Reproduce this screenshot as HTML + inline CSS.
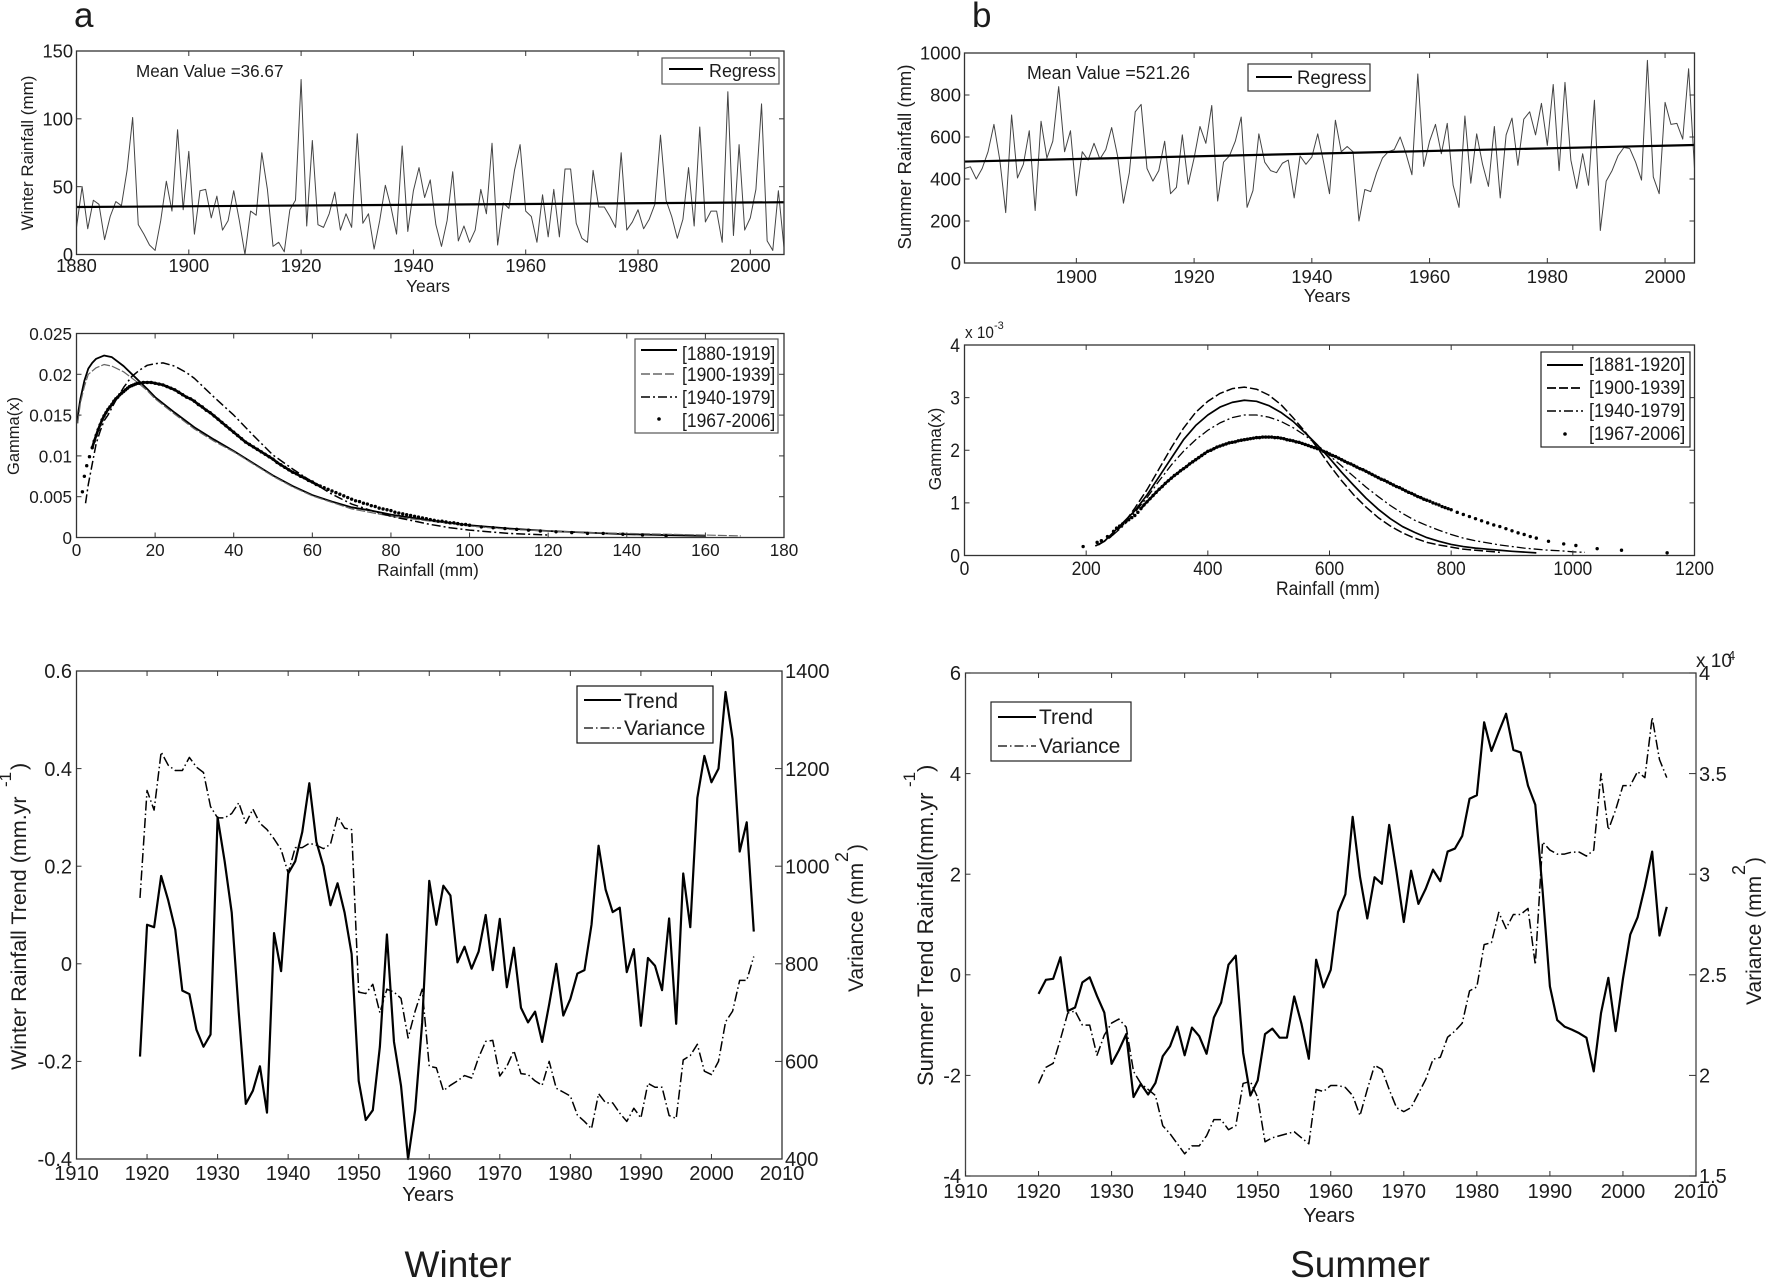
<!DOCTYPE html>
<html lang="en">
<head>
<meta charset="utf-8">
<title>Winter and summer rainfall analysis</title>
<style>
html,body{margin:0;padding:0;background:#fff;}
svg{display:block;}
text{font-family:"Liberation Sans",Arial,sans-serif;fill:#1c1c1c;}
</style>
</head>
<body>
<svg id="chart" xmlns="http://www.w3.org/2000/svg" width="1766" height="1279" viewBox="0 0 1766 1279">
<rect x="0" y="0" width="1766" height="1279" fill="#fff"/>
<g id="plots"></g>

<text x="74" y="27" font-size="35">a</text>
<text x="972" y="27" font-size="35">b</text>
<text x="458" y="1277" font-size="37" text-anchor="middle">Winter</text>
<text x="1360" y="1277" font-size="37" text-anchor="middle">Summer</text>

<text transform="translate(136 77) scale(.95 1)" font-size="18">Mean Value =36.67</text>
<text transform="translate(1027 79) scale(.96 1)" font-size="18.5">Mean Value =521.26</text>

<text transform="translate(428 292)" font-size="17.5" text-anchor="middle">Years</text>
<text transform="translate(1327 302)" font-size="18.5" text-anchor="middle">Years</text>
<text transform="translate(33 153) rotate(-90)" font-size="17" text-anchor="middle">Winter Rainfall (mm)</text>
<text transform="translate(911 157) rotate(-90)" font-size="18.5" text-anchor="middle">Summer Rainfall (mm)</text>

<text transform="translate(428 576) scale(.95 1)" font-size="18" text-anchor="middle">Rainfall (mm)</text>
<text transform="translate(1328 595) scale(.92 1)" font-size="19" text-anchor="middle">Rainfall (mm)</text>
<text transform="translate(19 436) rotate(-90)" font-size="16.5" text-anchor="middle">Gamma(x)</text>
<text transform="translate(941 449) rotate(-90)" font-size="17.5" text-anchor="middle">Gamma(x)</text>
<text transform="translate(965 338) scale(.9 1)" font-size="17">x 10</text>
<text x="994" y="329" font-size="11">-3</text>

<text x="428" y="1201" font-size="20.5" text-anchor="middle">Years</text>
<text x="1329" y="1222" font-size="20.5" text-anchor="middle">Years</text>
<text transform="translate(26 1070) rotate(-90)" font-size="21.5">Winter Rainfall Trend (mm.yr</text>
<text transform="translate(11 787) rotate(-90)" font-size="17">-1</text>
<text transform="translate(26 770) rotate(-90)" font-size="21.5">)</text>
<text transform="translate(933 1086) rotate(-90)" font-size="22">Summer Trend Rainfall(mm.yr</text>
<text transform="translate(915 787) rotate(-90)" font-size="17">-1</text>
<text transform="translate(933 772) rotate(-90)" font-size="22">)</text>
<text transform="translate(863 992) rotate(-90)" font-size="21">Variance (mm</text>
<text transform="translate(848 862) rotate(-90)" font-size="18">2</text>
<text transform="translate(863 851) rotate(-90)" font-size="21">)</text>
<text transform="translate(1761 1005) rotate(-90)" font-size="21">Variance (mm</text>
<text transform="translate(1745 875) rotate(-90)" font-size="18">2</text>
<text transform="translate(1761 864) rotate(-90)" font-size="21">)</text>
<text x="1696" y="667" font-size="19">x 10</text>
<text x="1728" y="660" font-size="13">4</text>

<g>
  <rect x="662" y="58" width="117" height="26" fill="#fff" stroke="#555" stroke-width="1.2"/>
  <line x1="669" y1="69" x2="703" y2="69" stroke="#000" stroke-width="2"/>
  <text transform="translate(709 77) scale(.97 1)" font-size="18.5">Regress</text>
</g>
<g>
  <rect x="1248" y="64" width="122" height="27" fill="#fff" stroke="#333" stroke-width="1.2"/>
  <line x1="1256" y1="77" x2="1292" y2="77" stroke="#000" stroke-width="2"/>
  <text transform="translate(1297 84) scale(.98 1)" font-size="19">Regress</text>
</g>

<g>
  <rect x="635" y="339" width="143" height="94" fill="#fff" stroke="#555" stroke-width="1.2"/>
  <line x1="641" y1="350" x2="677" y2="350" stroke="#000" stroke-width="2"/>
  <text transform="translate(682 360) scale(.92 1)" font-size="19">[1880-1919]</text>
  <line x1="641" y1="374" x2="677" y2="374" stroke="#666" stroke-width="1.5" stroke-dasharray="9 3"/>
  <text transform="translate(682 381) scale(.92 1)" font-size="19">[1900-1939]</text>
  <line x1="641" y1="397" x2="677" y2="397" stroke="#000" stroke-width="1.6" stroke-dasharray="9 3 2 3"/>
  <text transform="translate(682 404) scale(.92 1)" font-size="19">[1940-1979]</text>
  <circle cx="659" cy="419" r="1.8" fill="#000"/>
  <text transform="translate(682 427) scale(.92 1)" font-size="19">[1967-2006]</text>
</g>
<g>
  <rect x="1541" y="352" width="149" height="95" fill="#fff" stroke="#222" stroke-width="1.2"/>
  <line x1="1547" y1="365" x2="1583" y2="365" stroke="#000" stroke-width="2"/>
  <text transform="translate(1589 371) scale(.95 1)" font-size="19">[1881-1920]</text>
  <line x1="1547" y1="388" x2="1583" y2="388" stroke="#000" stroke-width="1.8" stroke-dasharray="9 3"/>
  <text transform="translate(1589 394) scale(.95 1)" font-size="19">[1900-1939]</text>
  <line x1="1547" y1="411" x2="1583" y2="411" stroke="#000" stroke-width="1.5" stroke-dasharray="9 3 2 3"/>
  <text transform="translate(1589 417) scale(.95 1)" font-size="19">[1940-1979]</text>
  <circle cx="1565" cy="434" r="1.8" fill="#000"/>
  <text transform="translate(1589 440) scale(.95 1)" font-size="19">[1967-2006]</text>
</g>

<g>
  <rect x="577" y="686" width="136" height="57" fill="#fff" stroke="#111" stroke-width="1.2"/>
  <line x1="584" y1="700" x2="621" y2="700" stroke="#000" stroke-width="2"/>
  <text x="624" y="708" font-size="21">Trend</text>
  <line x1="584" y1="728" x2="621" y2="728" stroke="#000" stroke-width="1.3" stroke-dasharray="9 3 1.5 3"/>
  <text x="624" y="735" font-size="21">Variance</text>
</g>
<g>
  <rect x="991" y="702" width="140" height="59" fill="#fff" stroke="#222" stroke-width="1.2"/>
  <line x1="998" y1="717" x2="1036" y2="717" stroke="#000" stroke-width="2"/>
  <text x="1039" y="724" font-size="21">Trend</text>
  <line x1="998" y1="746" x2="1036" y2="746" stroke="#000" stroke-width="1.3" stroke-dasharray="9 3 1.5 3"/>
  <text x="1039" y="753" font-size="21">Variance</text>
</g>
</svg>
<script>
const winterYearStart = 1880;
const winterRainfall = [20,50,19,40,37,11,28,39,36,62,101,22,15,7,3,25,54,32,92,33,76,15,47,48,27,43,18,25,47,25,0,32,29,75,48,6,9,2,33,40,129,21,84,22,20,30,46,18,30,20,89,23,30,4,25,51,35,15,80,17,47,64,42,55,22,6,25,61,10,21,9,18,48,30,82,7,38,34,62,81,32,28,9,44,13,48,13,63,63,23,12,9,62,35,35,28,20,75,18,24,33,19,26,37,88,40,28,12,26,64,21,94,24,32,32,9,120,14,81,18,27,48,111,10,3,47,5];
const winterRegressYears = [1880,2006];
const winterRegressValues = [35,38.5];
const winterSeriesXTicks = [1880,1900,1920,1940,1960,1980,2000];
const winterSeriesYTicks = [0,50,100,150];

const summerYearStart = 1881;
const summerRainfall = [450,458,400,450,530,660,490,240,705,405,470,630,250,675,500,580,840,530,630,320,530,490,570,495,540,645,510,285,430,720,755,450,390,440,580,330,360,610,375,500,650,570,750,295,480,510,580,695,265,345,615,480,440,430,475,490,310,510,470,505,615,480,330,680,530,555,530,200,350,340,430,500,530,540,600,520,420,900,460,580,660,520,665,370,265,700,380,615,470,365,650,310,610,690,465,685,720,610,760,560,850,440,860,490,355,520,370,775,155,390,440,510,550,545,480,395,965,410,330,765,660,665,590,925,450];
const summerRegressYears = [1881,2005];
const summerRegressValues = [483,562];
const summerSeriesXTicks = [1900,1920,1940,1960,1980,2000];
const summerSeriesYTicks = [0,200,400,600,800,1000];

const winterGammaXTicks = [0,20,40,60,80,100,120,140,160,180];
const winterGammaYTicks = [0,0.005,0.01,0.015,0.02,0.025];
const winterGamma1880 = [[0.2,.014],[0.5,.0155],[1,.017],[2,.0192],[3,.0207],[4,.0214],[5,.0219],[7,.0223],[9,.0221],[12,.021],[15,.0196],[18,.0182],[20,.0172],[25,.0153],[30,.0135],[35,.012],[40,.0106],[45,.0091],[50,.0076],[55,.0063],[60,.0052],[65,.0044],[70,.0037],[75,.0033],[80,.0028],[90,.0021],[100,.0015],[110,.0011],[120,.0008],[130,.0006],[140,.0004],[150,.0003],[160,.0002]];
const winterGamma1900 = [[0.3,.014],[1,.0165],[2,.0185],[3,.02],[5,.0208],[7,.0212],[9,.021],[12,.0203],[15,.0192],[18,.018],[20,.017],[25,.0151],[30,.0133],[35,.0118],[40,.0105],[45,.009],[50,.0075],[55,.0062],[60,.0051],[65,.0043],[70,.0035],[80,.0026],[90,.002],[100,.0014],[110,.001],[120,.0008],[130,.0006],[140,.0005],[150,.0004],[160,.0003],[169,.0002]];
const winterGamma1940 = [[2.3,.0042],[3,.0065],[4,.009],[5,.0115],[6,.013],[7,.0143],[8,.015],[10,.0168],[12,.0184],[14,.0197],[16,.0205],[18,.0211],[20,.0213],[22,.0214],[25,.021],[28,.0202],[30,.0195],[35,.0172],[40,.015],[45,.0125],[50,.0101],[55,.0084],[60,.0068],[65,.0053],[70,.0041],[75,.0033],[80,.0026],[85,.0021],[90,.0016],[95,.0012],[100,.0009],[110,.0005],[120,.0003]];
const winterGamma1967 = [[1.5,.0056],[2,.0075],[2.6,.0088],[3.3,.0099],[4,.011],[4.5,.0118],[5,.0125],[5.5,.0132],[6,.0138],[6.5,.0144],[7,.0149],[7.5,.0153],[8,.0157],[8.5,.016],[9,.0163],[9.5,.0167],[10,.017],[10.5,.0172],[11,.0175],[11.5,.0177],[12,.0179],[12.5,.0181],[13,.0183],[13.5,.0185],[14,.0186],[14.5,.0187],[15,.0188],[15.5,.0189],[16,.0189],[17,.019],[18,.019],[19,.019],[20,.0189],[21,.0188],[22,.0187],[23,.0185],[24,.0183],[25,.0181],[26,.0178],[27,.0175],[28,.0172],[29,.017],[30,.0167],[31,.0163],[32,.016],[33,.0156],[34,.0153],[35,.0149],[36,.0145],[37,.0141],[38,.0137],[39,.0133],[40,.0129],[41,.0125],[42,.0121],[43,.0117],[44,.0114],[45,.0111],[46,.0108],[47,.0105],[48,.0102],[49,.0099],[50,.0096],[51,.0092],[52,.0089],[53,.0086],[54,.0083],[55,.008],[56,.0078],[57,.0075],[58,.0073],[59,.007],[60,.0068],[61,.0065],[62,.0063],[63,.0061],[64,.0059],[65,.0057],[66,.0055],[67,.0053],[68,.0051],[69,.0049],[70,.0047],[71,.0045],[72,.0044],[73,.0042],[74,.0041],[75,.0039],[76,.0038],[77,.0036],[78,.0035],[79,.0034],[80,.0033],[81,.0031],[82,.003],[83,.0029],[84,.0028],[85,.0027],[86,.0026],[87,.0025],[88,.0024],[89,.0023],[90,.0022],[91,.0021],[92,.002],[93,.002],[94,.0019],[95,.0018],[96,.0018],[97,.0017],[98,.0016],[99,.0016],[100,.0015],[103,.0013],[106,.0012],[109,.0011],[112,.001],[115,.0009],[118,.0008],[122,.0007],[126,.0006],[130,.0005],[134,.0005],[139,.0004],[144,.0003],[150,.0002]];

const summerGammaXTicks = [0,200,400,600,800,1000,1200];
const summerGammaYTicks = [0,1,2,3,4];
const summerGamma1881 = [[215,.18],[230,.27],[250,.5],[280,.85],[300,1.15],[320,1.5],[340,1.85],[360,2.2],[380,2.47],[400,2.67],[420,2.82],[440,2.91],[460,2.95],[480,2.93],[500,2.85],[520,2.72],[540,2.55],[560,2.33],[580,2.1],[600,1.85],[620,1.58],[640,1.33],[660,1.09],[680,.88],[700,.7],[720,.55],[740,.44],[760,.34],[780,.27],[800,.21],[820,.17],[840,.14],[860,.12],[880,.1],[900,.08],[940,.05]];
const summerGamma1900 = [[220,.2],[240,.35],[260,.58],[280,.9],[300,1.25],[320,1.65],[340,2.05],[360,2.42],[380,2.72],[400,2.93],[420,3.08],[440,3.17],[460,3.2],[480,3.16],[500,3.05],[520,2.87],[540,2.62],[560,2.35],[580,2.05],[600,1.72],[620,1.42],[640,1.15],[660,.92],[680,.72],[700,.56],[720,.43],[740,.33],[760,.25],[780,.2],[800,.16],[820,.12],[840,.1],[860,.08],[880,.06]];
const summerGamma1940 = [[220,.2],[240,.35],[260,.55],[280,.82],[300,1.1],[320,1.42],[340,1.72],[360,1.98],[380,2.2],[400,2.38],[420,2.52],[440,2.62],[460,2.67],[480,2.67],[500,2.63],[520,2.55],[540,2.43],[560,2.28],[580,2.1],[600,1.9],[620,1.7],[640,1.5],[660,1.3],[680,1.12],[700,.95],[720,.8],[740,.67],[760,.57],[780,.48],[800,.4],[820,.33],[840,.28],[860,.24],[880,.2],[900,.17],[920,.14],[940,.12],[960,.1],[980,.09],[1000,.07],[1020,.06]];
const summerGamma1967 = [[195,.17],[218,.25],[225,.28],[235,.36],[245,.46],[250,.52],[255,.56],[260,.6],[265,.64],[270,.68],[275,.72],[280,.76],[285,.82],[290,.89],[295,.96],[300,1.02],[305,1.08],[310,1.14],[315,1.2],[320,1.26],[325,1.31],[330,1.37],[335,1.42],[340,1.47],[345,1.52],[350,1.56],[355,1.61],[360,1.65],[365,1.69],[370,1.74],[375,1.78],[380,1.82],[385,1.86],[390,1.9],[395,1.94],[400,1.98],[405,2],[410,2.03],[415,2.06],[420,2.08],[425,2.1],[430,2.12],[435,2.14],[440,2.15],[445,2.16],[450,2.18],[455,2.19],[460,2.2],[465,2.21],[470,2.22],[475,2.23],[480,2.24],[485,2.24],[490,2.25],[495,2.25],[500,2.25],[505,2.25],[510,2.24],[515,2.24],[520,2.23],[525,2.22],[530,2.2],[535,2.19],[540,2.18],[545,2.16],[550,2.15],[555,2.13],[560,2.11],[565,2.09],[570,2.07],[575,2.05],[580,2.03],[585,2.01],[590,1.98],[595,1.96],[600,1.93],[605,1.9],[610,1.88],[615,1.85],[620,1.82],[625,1.79],[630,1.76],[635,1.74],[640,1.71],[645,1.68],[650,1.65],[655,1.63],[660,1.6],[665,1.57],[670,1.54],[675,1.51],[680,1.48],[685,1.45],[690,1.43],[695,1.4],[700,1.37],[705,1.34],[710,1.31],[715,1.29],[720,1.26],[725,1.23],[730,1.2],[735,1.18],[740,1.15],[745,1.12],[750,1.1],[755,1.07],[760,1.05],[765,1.03],[770,1],[775,.98],[780,.96],[785,.93],[790,.91],[795,.89],[800,.87],[810,.82],[820,.78],[830,.74],[840,.7],[850,.66],[860,.62],[870,.58],[880,.55],[890,.51],[900,.47],[910,.43],[920,.4],[930,.36],[940,.33],[960,.27],[985,.22],[1005,.19],[1040,.13],[1080,.1],[1155,.05]];

const trendXTicks = [1910,1920,1930,1940,1950,1960,1970,1980,1990,2000,2010];
const winterTrendStart = 1919;
const winterTrend = [-.19,.08,.075,.18,.13,.07,-.055,-.062,-.135,-.17,-.145,.30,.21,.105,-.10,-.287,-.26,-.21,-.305,.063,-.015,.185,.21,.27,.37,.25,.20,.12,.165,.105,.02,-.24,-.32,-.30,-.17,.06,-.16,-.25,-.40,-.30,-.12,.17,.08,.16,.14,.003,.035,-.01,.025,.10,-.013,.092,-.048,.033,-.09,-.12,-.098,-.16,-.083,0,-.106,-.072,-.02,-.013,.08,.242,.152,.106,.115,-.017,.03,-.127,.012,-.004,-.054,.093,-.123,.185,.075,.34,.426,.372,.40,.557,.46,.23,.29,.066];
const winterVariance = [935,1155,1115,1234,1207,1196,1196,1223,1203,1192,1122,1099,1099,1108,1130,1088,1117,1088,1075,1056,1034,986,1038,1038,1047,1043,1036,1045,1102,1078,1075,742,739,758,700,748,742,729,648,703,748,590,587,540,551,560,571,566,608,641,643,570,590,622,575,573,560,551,600,545,537,529,490,477,462,534,515,515,494,477,504,484,555,547,547,489,483,603,612,635,580,573,600,681,703,766,766,815];
const winterTrendYTicks = [-0.4,-0.2,0,0.2,0.4,0.6];
const winterVarianceTicks = [400,600,800,1000,1200,1400];

const summerTrendStart = 1920;
const summerTrend = [-.38,-.1,-.08,.35,-.72,-.65,-.15,-.05,-.42,-.75,-1.77,-1.5,-1.18,-2.43,-2.17,-2.38,-2.15,-1.62,-1.42,-1.03,-1.6,-1.05,-1.22,-1.57,-.85,-.55,.2,.38,-1.55,-2.4,-2.1,-1.18,-1.07,-1.25,-1.25,-.43,-.98,-1.67,.3,-.25,.1,1.25,1.6,3.14,1.95,1.12,1.94,1.81,2.98,2.05,1.05,2.07,1.41,1.71,2.09,1.86,2.45,2.51,2.76,3.5,3.57,5.02,4.45,4.83,5.19,4.47,4.42,3.76,3.38,1.67,-.23,-.9,-1.03,-1.09,-1.16,-1.25,-1.92,-.76,-.06,-1.12,-.08,.8,1.14,1.75,2.45,.78,1.35];
const summerVariance = [1.96,2.04,2.06,2.18,2.31,2.32,2.25,2.25,2.10,2.2,2.26,2.28,2.24,2.02,1.96,1.93,1.9,1.75,1.71,1.66,1.61,1.65,1.65,1.70,1.78,1.78,1.73,1.75,1.96,1.97,1.89,1.67,1.69,1.70,1.71,1.72,1.69,1.66,1.93,1.92,1.95,1.95,1.94,1.9,1.8,1.93,2.05,2.03,1.93,1.84,1.82,1.84,1.91,1.98,2.08,2.09,2.19,2.22,2.26,2.42,2.44,2.65,2.66,2.81,2.73,2.8,2.8,2.83,2.55,3.16,3.12,3.1,3.1,3.11,3.11,3.09,3.12,3.5,3.22,3.32,3.44,3.44,3.51,3.48,3.78,3.57,3.48];
const summerTrendYTicks = [-4,-2,0,2,4,6];
const summerVarianceTicks = [1.5,2,2.5,3,3.5,4];

const SVG_NS = 'http://www.w3.org/2000/svg';
const layer = document.getElementById('plots');

function makeScale(domainMin, domainMax, rangeMin, rangeMax) {
  return function (v) {
    return rangeMin + (v - domainMin) / (domainMax - domainMin) * (rangeMax - rangeMin);
  };
}

function pathFromPoints(points, sx, sy) {
  return points.map(function (p, i) {
    return (i ? 'L' : 'M') + sx(p[0]).toFixed(2) + ' ' + sy(p[1]).toFixed(2);
  }).join('');
}

function yearPoints(start, values) {
  return values.map(function (v, i) { return [start + i, v]; });
}

function pairPoints(xs, ys) {
  return xs.map(function (x, i) { return [x, ys[i]]; });
}

function drawLine(name, points, sx, sy, color, width, dash) {
  const el = document.createElementNS(SVG_NS, 'path');
  
  
  el.setAttribute('d', pathFromPoints(points, sx, sy));
  el.setAttribute('fill', 'none');
  el.setAttribute('stroke', color);
  el.setAttribute('stroke-width', width);
  el.setAttribute('stroke-linejoin', 'round');
  if (dash) el.setAttribute('stroke-dasharray', dash);
  layer.appendChild(el);
}

function drawDots(name, points, sx, sy, radius) {
  const group = document.createElementNS(SVG_NS, 'g');
  
  
  points.forEach(function (p) {
    const dot = document.createElementNS(SVG_NS, 'circle');
    
    
    dot.setAttribute('cx', sx(p[0]).toFixed(2));
    dot.setAttribute('cy', sy(p[1]).toFixed(2));
    dot.setAttribute('r', radius);
    dot.setAttribute('fill', '#000');
    group.appendChild(dot);
  });
  layer.appendChild(group);
}

function drawFrame(name, box, color) {
  const el = document.createElementNS(SVG_NS, 'rect');
  
  
  el.setAttribute('x', box.x0);
  el.setAttribute('y', box.y0);
  el.setAttribute('width', box.x1 - box.x0);
  el.setAttribute('height', box.y1 - box.y0);
  el.setAttribute('fill', 'none');
  el.setAttribute('stroke', color);
  el.setAttribute('stroke-width', 1.3);
  layer.appendChild(el);
}

function drawTick(x1, y1, x2, y2) {
  const el = document.createElementNS(SVG_NS, 'line');
  
  
  el.setAttribute('x1', x1);
  el.setAttribute('y1', y1);
  el.setAttribute('x2', x2);
  el.setAttribute('y2', y2);
  el.setAttribute('stroke', '#333');
  el.setAttribute('stroke-width', 1);
  layer.appendChild(el);
}

function drawTickLabel(label, x, y, anchor, size, squeeze) {
  const el = document.createElementNS(SVG_NS, 'text');
  
  
  el.setAttribute('transform', 'translate(' + x + ' ' + y + ') scale(' + squeeze + ' 1)');
  el.setAttribute('font-size', size);
  el.setAttribute('text-anchor', anchor);
  el.textContent = label;
  layer.appendChild(el);
}

function drawAxes(box, sx, sy, xTicks, yTicks, style) {
  xTicks.forEach(function (t) {
    const x = sx(t).toFixed(2);
    drawTick(x, box.y1, x, box.y1 - 5);
    drawTick(x, box.y0, x, box.y0 + 5);
    drawTickLabel(String(t), x, style.xBase, 'middle', style.size, style.squeeze);
  });
  yTicks.forEach(function (t) {
    const y = sy(t);
    if (style.yTicksBothSides) {
      drawTick(box.x0, y.toFixed(2), box.x0 + 5, y.toFixed(2));
      if (!style.noRightTick) drawTick(box.x1, y.toFixed(2), box.x1 - 5, y.toFixed(2));
    }
    drawTickLabel(String(t), style.yRight, (y + style.size * 0.36).toFixed(2), 'end', style.size, style.squeeze);
  });
}

function drawRightAxis(box, sy, ticks, x, size) {
  ticks.forEach(function (t) {
    const y = sy(t);
    drawTick(box.x1, y.toFixed(2), box.x1 - 7, y.toFixed(2));
    drawTickLabel(String(t), x, (y + size * 0.36).toFixed(2), 'start', size, 1);
  });
}

function withinRange(points, low, high) {
  return points.filter(function (p) { return p[0] >= low && p[0] <= high; });
}

/* Winter rainfall series */
(function () {
  const box = { x0: 76.5, x1: 784, y0: 51, y1: 254.5 };
  const sx = makeScale(1880, 2006, box.x0, box.x1);
  const sy = makeScale(0, 150, box.y1, box.y0);
  drawLine('winter-rainfall-line', yearPoints(winterYearStart, winterRainfall), sx, sy, '#444', 1);
  drawLine('winter-regress-line', pairPoints(winterRegressYears, winterRegressValues), sx, sy, '#000', 2.2);
  drawFrame('winter-series-frame', box, '#333');
  drawAxes(box, sx, sy, winterSeriesXTicks, winterSeriesYTicks, { xBase: 272, yRight: 73, size: 18.3, squeeze: 1, yTicksBothSides: true });
})();

/* Summer rainfall series */
(function () {
  const box = { x0: 964.5, x1: 1694.5, y0: 53, y1: 263 };
  const sx = makeScale(1881, 2005, box.x0, box.x1);
  const sy = makeScale(0, 1000, box.y1, box.y0);
  drawLine('summer-rainfall-line', yearPoints(summerYearStart, summerRainfall), sx, sy, '#444', 1);
  drawLine('summer-regress-line', pairPoints(summerRegressYears, summerRegressValues), sx, sy, '#000', 2.2);
  drawFrame('summer-series-frame', box, '#333');
  drawAxes(box, sx, sy, summerSeriesXTicks, summerSeriesYTicks, { xBase: 283, yRight: 961, size: 18.5, squeeze: 1, yTicksBothSides: true });
})();

/* Winter gamma fits */
(function () {
  const box = { x0: 76.5, x1: 784, y0: 333.5, y1: 537.5 };
  const sx = makeScale(0, 180, box.x0, box.x1);
  const sy = makeScale(0, 0.025, box.y1, box.y0);
  drawLine('winter-gamma-1880-1919', winterGamma1880, sx, sy, '#000', 1.8);
  drawLine('winter-gamma-1900-1939', winterGamma1900, sx, sy, '#666', 1.2, '9 2');
  drawLine('winter-gamma-1940-1979', winterGamma1940, sx, sy, '#000', 1.5, '9 3 2 3');
  drawLine('winter-gamma-1967-2006-band', withinRange(winterGamma1967, 4, 62), sx, sy, '#000', 2.6);
  drawDots('winter-gamma-1967-2006', winterGamma1967, sx, sy, 1.7);
  drawFrame('winter-gamma-frame', box, '#333');
  drawAxes(box, sx, sy, winterGammaXTicks, winterGammaYTicks, { xBase: 556, yRight: 72, size: 18, squeeze: 0.95, yTicksBothSides: true });
})();

/* Summer gamma fits */
(function () {
  const box = { x0: 964.5, x1: 1694.5, y0: 345, y1: 555.5 };
  const sx = makeScale(0, 1200, box.x0, box.x1);
  const sy = makeScale(0, 4, box.y1, box.y0);
  drawLine('summer-gamma-1881-1920', summerGamma1881, sx, sy, '#000', 1.7);
  drawLine('summer-gamma-1900-1939', summerGamma1900, sx, sy, '#000', 1.5, '9 3');
  drawLine('summer-gamma-1940-1979', summerGamma1940, sx, sy, '#000', 1.3, '9 3 2 3');
  drawLine('summer-gamma-1967-2006-band', withinRange(summerGamma1967, 290, 760), sx, sy, '#000', 2.4);
  drawDots('summer-gamma-1967-2006', summerGamma1967, sx, sy, 1.7);
  drawFrame('summer-gamma-frame', box, '#333');
  drawAxes(box, sx, sy, summerGammaXTicks, summerGammaYTicks, { xBase: 575, yRight: 960, size: 19, squeeze: 0.92, yTicksBothSides: true });
})();

/* Winter trend and variance */
(function () {
  const box = { x0: 76.5, x1: 782, y0: 671, y1: 1159 };
  const sx = makeScale(1910, 2010, box.x0, box.x1);
  const sy = makeScale(-0.4, 0.6, box.y1, box.y0);
  const sv = makeScale(400, 1400, box.y1, box.y0);
  drawLine('winter-trend-line', yearPoints(winterTrendStart, winterTrend), sx, sy, '#000', 2.2);
  drawLine('winter-variance-line', yearPoints(winterTrendStart, winterVariance), sx, sv, '#000', 1.5, '10 3 1.5 3');
  drawFrame('winter-trend-frame', box, '#333');
  drawAxes(box, sx, sy, trendXTicks, winterTrendYTicks, { xBase: 1180, yRight: 72, size: 20, squeeze: 1, yTicksBothSides: true, noRightTick: true });
  drawRightAxis(box, sv, winterVarianceTicks, 785, 20);
})();

/* Summer trend and variance */
(function () {
  const box = { x0: 965.5, x1: 1696, y0: 673, y1: 1176 };
  const sx = makeScale(1910, 2010, box.x0, box.x1);
  const sy = makeScale(-4, 6, box.y1, box.y0);
  const sv = makeScale(1.5, 4, box.y1, box.y0);
  drawLine('summer-trend-line', yearPoints(summerTrendStart, summerTrend), sx, sy, '#000', 2.2);
  drawLine('summer-variance-line', yearPoints(summerTrendStart, summerVariance), sx, sv, '#000', 1.5, '10 3 1.5 3');
  drawFrame('summer-trend-frame', box, '#444');
  drawAxes(box, sx, sy, trendXTicks, summerTrendYTicks, { xBase: 1198, yRight: 961, size: 20, squeeze: 1, yTicksBothSides: true, noRightTick: true });
  drawRightAxis(box, sv, summerVarianceTicks, 1699, 20);
})();
</script>
</body>
</html>
